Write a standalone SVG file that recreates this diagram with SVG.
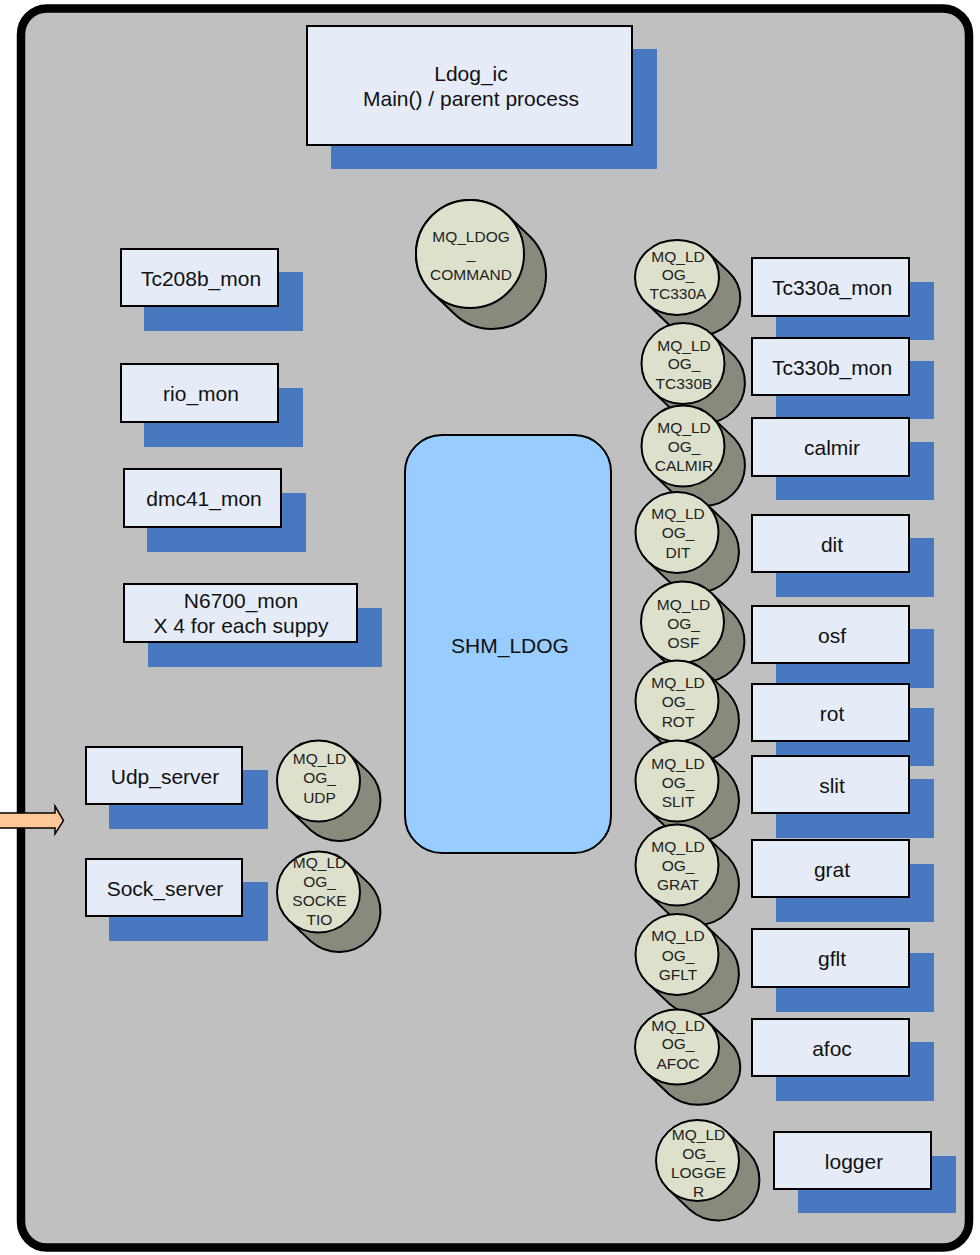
<svg xmlns="http://www.w3.org/2000/svg" xmlns:xlink="http://www.w3.org/1999/xlink" width="980" height="1255" viewBox="0 0 980 1255">
<style>
.frame{fill:#c0c0c0;stroke:#000;stroke-width:8.5}
.sh{fill:#4878c0}
.box{fill:#e6ecf7;stroke:#000;stroke-width:2}
.bt{font-family:"Liberation Sans",Arial,sans-serif;font-size:21px;fill:#111;text-anchor:middle}
.ct{font-family:"Liberation Sans",Arial,sans-serif;font-size:15.5px;fill:#222;text-anchor:middle}
.cback{fill:#878a7d;stroke:#000;stroke-width:2}
.cfront{fill:#dde0cb;stroke:#000;stroke-width:2}
.shm{fill:#99ccff;stroke:#000;stroke-width:2}
.arrow{fill:#ffc896;stroke:#000;stroke-width:1.5}
</style>
<defs>
<g id="cylStd">
<path class="cback" d="M29.3,-28.6 L51.3,-7.6 A41.5,40.5 0 0 1 -7.3,49.6 L-29.3,28.6 A41.5,40.5 0 0 1 29.3,-28.6 Z"/>
<ellipse class="cfront" cx="0" cy="0" rx="41.5" ry="40.5"/>
</g>
<g id="cylSm">
<path class="cback" d="M29.7,-26.5 L51.7,-5.5 A42,37.5 0 0 1 -7.7,47.5 L-29.7,26.5 A42,37.5 0 0 1 29.7,-26.5 Z"/>
<ellipse class="cfront" cx="0" cy="0" rx="42" ry="37.5"/>
</g>
<g id="cylBig">
<path class="cback" d="M38.2,-38.2 L60.2,-17.2 A54,54 0 0 1 -16.2,59.2 L-38.2,38.2 A54,54 0 0 1 38.2,-38.2 Z"/>
<circle class="cfront" cx="0" cy="0" r="54"/>
</g>
</defs>

<rect class="frame" x="21" y="8.5" width="948" height="1239" rx="26" ry="26"/>

<g id="ldog_ic">
<rect class="sh" x="331" y="49" width="326" height="120"/>
<rect class="box" x="307" y="26" width="325" height="119"/>
<text class="bt" x="471" y="81">Ldog_ic</text>
<text class="bt" x="471" y="106">Main() / parent process</text>
</g>

<g id="mq_ldog_command">
<use xlink:href="#cylBig" transform="translate(470,254)"/>
<text class="ct" x="471" y="241.5">MQ_LDOG</text>
<text class="ct" x="471" y="259">_</text>
<text class="ct" x="471" y="279.5">COMMAND</text>
</g>

<g id="tc208b_mon">
<rect class="sh" x="144" y="272" width="159" height="59"/>
<rect class="box" x="121" y="249" width="157" height="57"/>
<text class="bt" x="201" y="286">Tc208b_mon</text>
</g>
<g id="rio_mon">
<rect class="sh" x="144" y="388" width="159" height="59"/>
<rect class="box" x="121" y="364" width="157" height="58"/>
<text class="bt" x="201" y="401">rio_mon</text>
</g>
<g id="dmc41_mon">
<rect class="sh" x="147" y="493" width="159" height="59"/>
<rect class="box" x="124" y="469" width="157" height="58"/>
<text class="bt" x="204" y="506">dmc41_mon</text>
</g>
<g id="n6700_mon">
<rect class="sh" x="148" y="608" width="234" height="59"/>
<rect class="box" x="124" y="584" width="233" height="58"/>
<text class="bt" x="241" y="608">N6700_mon</text>
<text class="bt" x="241" y="633">X 4 for each suppy</text>
</g>
<g id="udp_server">
<rect class="sh" x="109" y="770" width="159" height="59"/>
<rect class="box" x="86" y="747" width="156" height="57"/>
<text class="bt" x="165" y="783.5">Udp_server</text>
</g>
<g id="sock_server">
<rect class="sh" x="109" y="882" width="159" height="59"/>
<rect class="box" x="86" y="859" width="156" height="57"/>
<text class="bt" x="165" y="895.5">Sock_server</text>
</g>

<g id="mq_ldog_udp">
<use xlink:href="#cylStd" transform="translate(318.5,781)"/>
<text class="ct" x="319.5" y="763.5">MQ_LD</text>
<text class="ct" x="319.5" y="783">OG_</text>
<text class="ct" x="319.5" y="802.5">UDP</text>
</g>
<g id="mq_ldog_socketio">
<use xlink:href="#cylStd" transform="translate(318.5,892)"/>
<text class="ct" x="319.5" y="867.5">MQ_LD</text>
<text class="ct" x="319.5" y="886.5">OG_</text>
<text class="ct" x="319.5" y="905.5">SOCKE</text>
<text class="ct" x="319.5" y="924.5">TIO</text>
</g>

<g id="shm_ldog">
<rect class="shm" x="405" y="435" width="206" height="418" rx="37" ry="37"/>
<text class="bt" x="510" y="652.5">SHM_LDOG</text>
</g>

<g id="tc330a_mon">
<rect class="sh" x="776" y="282" width="158" height="58"/>
<rect class="box" x="752" y="258" width="157" height="58"/>
<text class="bt" x="832" y="295">Tc330a_mon</text>
</g>
<g id="tc330b_mon">
<rect class="sh" x="776" y="361" width="158" height="58"/>
<rect class="box" x="752" y="338" width="157" height="57"/>
<text class="bt" x="832" y="374.5">Tc330b_mon</text>
</g>
<g id="calmir">
<rect class="sh" x="776" y="442" width="158" height="58"/>
<rect class="box" x="752" y="418" width="157" height="58"/>
<text class="bt" x="832" y="455">calmir</text>
</g>
<g id="dit">
<rect class="sh" x="776" y="538" width="158" height="59"/>
<rect class="box" x="752" y="515" width="157" height="57"/>
<text class="bt" x="832" y="551.5">dit</text>
</g>
<g id="osf">
<rect class="sh" x="776" y="629" width="158" height="59"/>
<rect class="box" x="752" y="606" width="157" height="57"/>
<text class="bt" x="832" y="642.5">osf</text>
</g>
<g id="rot">
<rect class="sh" x="776" y="708" width="158" height="58"/>
<rect class="box" x="752" y="684" width="157" height="57"/>
<text class="bt" x="832" y="720.5">rot</text>
</g>
<g id="slit">
<rect class="sh" x="776" y="779" width="158" height="59"/>
<rect class="box" x="752" y="756" width="157" height="57"/>
<text class="bt" x="832" y="792.5">slit</text>
</g>
<g id="grat">
<rect class="sh" x="776" y="864" width="158" height="58"/>
<rect class="box" x="752" y="840" width="157" height="57"/>
<text class="bt" x="832" y="876.5">grat</text>
</g>
<g id="gflt">
<rect class="sh" x="776" y="953" width="158" height="59"/>
<rect class="box" x="752" y="929" width="157" height="58"/>
<text class="bt" x="832" y="966">gflt</text>
</g>
<g id="afoc">
<rect class="sh" x="776" y="1042" width="158" height="59"/>
<rect class="box" x="752" y="1019" width="157" height="57"/>
<text class="bt" x="832" y="1055.5">afoc</text>
</g>
<g id="logger">
<rect class="sh" x="798" y="1156" width="158" height="57"/>
<rect class="box" x="774" y="1132" width="157" height="57"/>
<text class="bt" x="854" y="1168.5">logger</text>
</g>

<g id="mq_ldog_tc330a">
<use xlink:href="#cylSm" transform="translate(677,277.5)"/>
<text class="ct" x="678" y="261.5">MQ_LD</text>
<text class="ct" x="678" y="280">OG_</text>
<text class="ct" x="678" y="298.5">TC330A</text>
</g>
<g id="mq_ldog_tc330b">
<use xlink:href="#cylStd" transform="translate(683,363.5)"/>
<text class="ct" x="684" y="350.5">MQ_LD</text>
<text class="ct" x="684" y="369">OG_</text>
<text class="ct" x="684" y="388.5">TC330B</text>
</g>
<g id="mq_ldog_calmir">
<use xlink:href="#cylStd" transform="translate(683,446)"/>
<text class="ct" x="684" y="432.5">MQ_LD</text>
<text class="ct" x="684" y="451.5">OG_</text>
<text class="ct" x="684" y="470.5">CALMIR</text>
</g>
<g id="mq_ldog_dit">
<use xlink:href="#cylStd" transform="translate(677,532.5)"/>
<text class="ct" x="678" y="518.5">MQ_LD</text>
<text class="ct" x="678" y="538">OG_</text>
<text class="ct" x="678" y="557.5">DIT</text>
</g>
<g id="mq_ldog_osf">
<use xlink:href="#cylStd" transform="translate(682.5,622)"/>
<text class="ct" x="683.5" y="609.5">MQ_LD</text>
<text class="ct" x="683.5" y="628.5">OG_</text>
<text class="ct" x="683.5" y="647.5">OSF</text>
</g>
<g id="mq_ldog_rot">
<use xlink:href="#cylStd" transform="translate(677,701)"/>
<text class="ct" x="678" y="687.5">MQ_LD</text>
<text class="ct" x="678" y="707">OG_</text>
<text class="ct" x="678" y="726.5">ROT</text>
</g>
<g id="mq_ldog_slit">
<use xlink:href="#cylStd" transform="translate(677,781)"/>
<text class="ct" x="678" y="768.5">MQ_LD</text>
<text class="ct" x="678" y="787.5">OG_</text>
<text class="ct" x="678" y="806.5">SLIT</text>
</g>
<g id="mq_ldog_grat">
<use xlink:href="#cylStd" transform="translate(677,865)"/>
<text class="ct" x="678" y="852">MQ_LD</text>
<text class="ct" x="678" y="871">OG_</text>
<text class="ct" x="678" y="890">GRAT</text>
</g>
<g id="mq_ldog_gflt">
<use xlink:href="#cylStd" transform="translate(677,954.5)"/>
<text class="ct" x="678" y="941">MQ_LD</text>
<text class="ct" x="678" y="960.5">OG_</text>
<text class="ct" x="678" y="979.5">GFLT</text>
</g>
<g id="mq_ldog_afoc">
<use xlink:href="#cylSm" transform="translate(677,1047)"/>
<text class="ct" x="678" y="1030.5">MQ_LD</text>
<text class="ct" x="678" y="1049">OG_</text>
<text class="ct" x="678" y="1068.5">AFOC</text>
</g>
<g id="mq_ldog_logger">
<use xlink:href="#cylStd" transform="translate(697.5,1160.5)"/>
<text class="ct" x="698.5" y="1139.5">MQ_LD</text>
<text class="ct" x="698.5" y="1158.5">OG_</text>
<text class="ct" x="698.5" y="1177.5">LOGGE</text>
<text class="ct" x="698.5" y="1196.5">R</text>
</g>

<g id="connectors">
<path class="arrow" d="M-5,813 L55,813 L55,806 L63.5,820.5 L55,834 L55,828 L-5,828 Z"/>
</g>
</svg>
